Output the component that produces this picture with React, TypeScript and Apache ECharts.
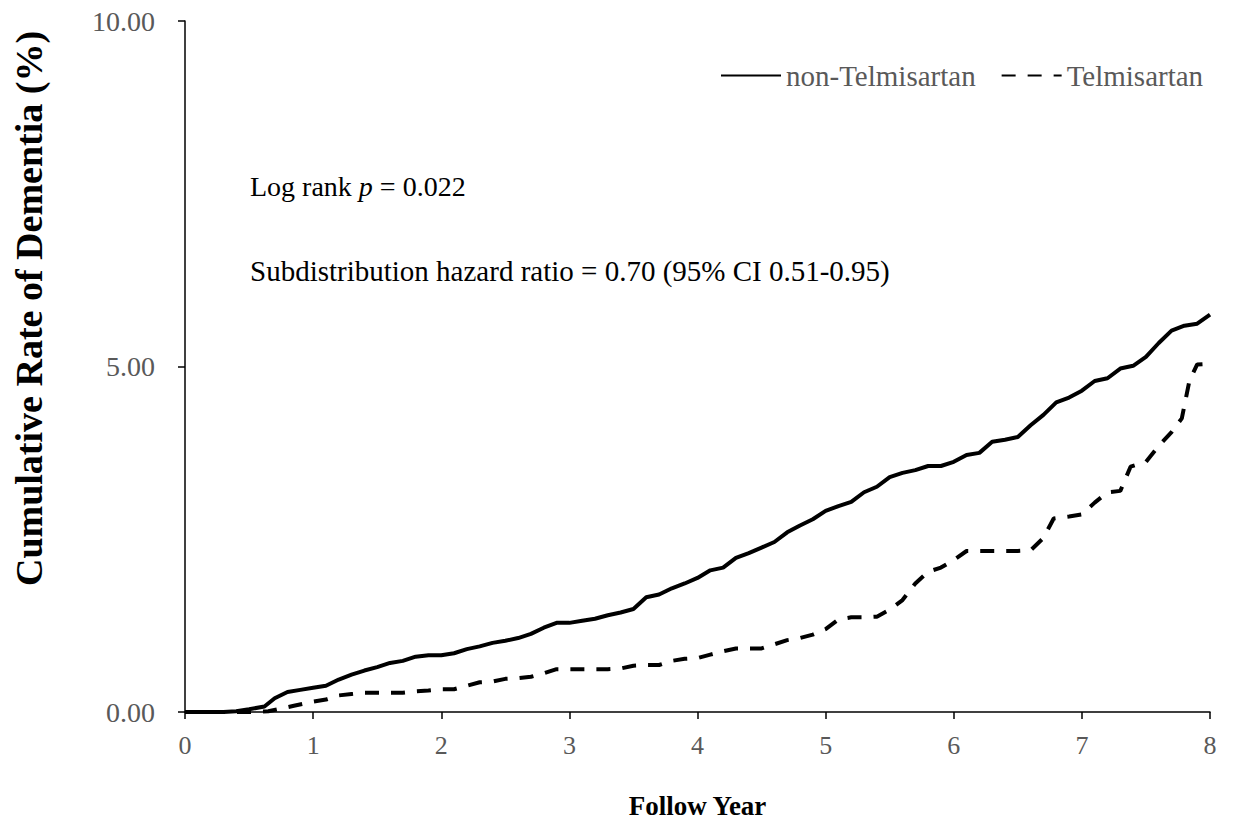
import React, { useEffect, useRef } from "react";
import * as echarts from "echarts";

// Follow-up years and cumulative dementia rate (%)
const nonTelmiYears = [0, 0.3, 0.4, 0.5, 0.62, 0.7, 0.8, 0.9, 1.0, 1.1, 1.2, 1.3, 1.4, 1.5, 1.6, 1.7, 1.8, 1.9, 2.0, 2.1, 2.2, 2.3, 2.4, 2.5, 2.6, 2.7, 2.8, 2.9, 3.0, 3.1, 3.2, 3.3, 3.4, 3.5, 3.6, 3.7, 3.8, 3.9, 4.0, 4.1, 4.2, 4.3, 4.4, 4.5, 4.6, 4.7, 4.8, 4.9, 5.0, 5.1, 5.2, 5.3, 5.4, 5.5, 5.6, 5.7, 5.8, 5.9, 6.0, 6.1, 6.2, 6.3, 6.4, 6.5, 6.6, 6.7, 6.8, 6.9, 7.0, 7.1, 7.2, 7.3, 7.4, 7.5, 7.6, 7.7, 7.8, 7.9, 8.0];
const nonTelmiRates = [0, 0, 0.01, 0.04, 0.08, 0.2, 0.29, 0.32, 0.35, 0.38, 0.47, 0.54, 0.6, 0.65, 0.71, 0.74, 0.8, 0.82, 0.82, 0.85, 0.91, 0.95, 1.0, 1.03, 1.07, 1.13, 1.22, 1.29, 1.29, 1.32, 1.35, 1.4, 1.44, 1.49, 1.66, 1.7, 1.79, 1.86, 1.94, 2.05, 2.09, 2.23, 2.3, 2.38, 2.46, 2.6, 2.7, 2.79, 2.91, 2.98, 3.04, 3.18, 3.26, 3.4, 3.46, 3.5, 3.56, 3.56, 3.62, 3.72, 3.75, 3.91, 3.94, 3.98, 4.15, 4.3, 4.48, 4.55, 4.65, 4.79, 4.83, 4.97, 5.01, 5.14, 5.34, 5.52, 5.59, 5.62, 5.75];

const telmiYears = [0, 0.55, 0.65, 0.75, 0.85, 1.0, 1.1, 1.2, 1.3, 1.4, 1.5, 1.6, 1.7, 1.8, 1.9, 2.0, 2.1, 2.2, 2.3, 2.4, 2.5, 2.6, 2.7, 2.8, 2.9, 3.0, 3.1, 3.2, 3.3, 3.4, 3.5, 3.6, 3.7, 3.8, 3.9, 4.0, 4.1, 4.2, 4.3, 4.4, 4.5, 4.6, 4.7, 4.8, 4.9, 5.0, 5.1, 5.2, 5.3, 5.4, 5.5, 5.6, 5.7, 5.8, 5.9, 6.0, 6.1, 6.2, 6.3, 6.4, 6.5, 6.6, 6.7, 6.78, 6.9, 7.0, 7.1, 7.2, 7.3, 7.38, 7.5, 7.6, 7.7, 7.78, 7.84, 7.9, 8.0];
const telmiRates = [0, 0, 0.01, 0.05, 0.09, 0.15, 0.18, 0.24, 0.26, 0.28, 0.28, 0.28, 0.28, 0.3, 0.31, 0.33, 0.33, 0.38, 0.43, 0.44, 0.48, 0.49, 0.51, 0.56, 0.62, 0.62, 0.62, 0.62, 0.62, 0.63, 0.67, 0.68, 0.68, 0.74, 0.77, 0.78, 0.83, 0.88, 0.92, 0.92, 0.92, 0.98, 1.04, 1.07, 1.12, 1.2, 1.34, 1.37, 1.37, 1.38, 1.48, 1.62, 1.86, 2.03, 2.09, 2.2, 2.33, 2.33, 2.33, 2.33, 2.33, 2.34, 2.52, 2.8, 2.83, 2.86, 3.03, 3.18, 3.2, 3.55, 3.62, 3.85, 4.05, 4.25, 4.8, 5.03, 5.04];

const seriesNames = ["non-Telmisartan", "Telmisartan"];
const yTicks = [0, 5, 10];
const xTicks = [0, 1, 2, 3, 4, 5, 6, 7, 8];

const zip = (xs: number[], ys: number[]) => xs.map((x, i) => [x, ys[i]]);

const SERIF = "'Liberation Serif', 'Times New Roman', serif";

export default function App() {
  const ref = useRef<HTMLDivElement>(null);

  useEffect(() => {
    if (!ref.current) return;
    const chart = echarts.init(ref.current, undefined, { renderer: "svg" });
    chart.setOption({
      animation: false,
      backgroundColor: "#ffffff",
      textStyle: { fontFamily: SERIF },
      grid: { left: 185, right: 23, top: 21, bottom: 112, containLabel: false },
      legend: {
        data: seriesNames,
        left: 715,
        top: 56,
        itemWidth: 60,
        itemHeight: 14,
        itemGap: 25,
        itemStyle: { opacity: 0 },
        textStyle: { fontFamily: "Times New Roman", fontSize: 29, color: "#595959" },
      },
      xAxis: {
        type: "value",
        min: xTicks[0],
        max: xTicks[xTicks.length - 1],
        interval: 1,
        name: "Follow Year",
        nameLocation: "middle",
        nameGap: 80,
        nameTextStyle: { fontFamily: SERIF, fontSize: 27, fontWeight: "bold", color: "#000" },
        axisLine: { show: true, lineStyle: { color: "#000", width: 1.5 } },
        axisTick: { show: true, inside: false, length: 7, lineStyle: { color: "#000", width: 1.5 } },
        axisLabel: { fontFamily: SERIF, fontSize: 26, color: "#595959", margin: 20 },
        splitLine: { show: false },
      },
      yAxis: {
        type: "value",
        min: yTicks[0],
        max: yTicks[yTicks.length - 1],
        interval: 5,
        name: "Cumulative Rate of Dementia (%)",
        nameLocation: "middle",
        nameGap: 137,
        nameTextStyle: {
          fontFamily: SERIF,
          fontSize: 38,
          fontWeight: "bold",
          color: "#000",
          padding: [0, 0, 0, 116],
        },
        axisLine: { show: true, lineStyle: { color: "#000", width: 1.5 } },
        axisTick: { show: true, inside: false, length: 7, lineStyle: { color: "#000", width: 1.5 } },
        axisLabel: {
          fontFamily: SERIF,
          fontSize: 28,
          color: "#595959",
          margin: 30,
          formatter: (v: number) => v.toFixed(2),
        },
        splitLine: { show: false },
      },
      graphic: [
        {
          type: "text",
          left: 250,
          top: 172,
          style: {
            text: "{a|Log rank }{b|p}{a| = 0.022}",
            font: "28px 'Liberation Serif'",
            fill: "#000",
            rich: {
              a: { font: "28px 'Liberation Serif'", fontFamily: "Liberation Serif", fontSize: 28, color: "#000" },
              b: { font: "italic 28px 'Liberation Serif'", fontFamily: "Liberation Serif", fontSize: 28, fontStyle: "italic", color: "#000" },
            },
          },
        },
        {
          type: "text",
          left: 250,
          top: 256,
          style: {
            text: "Subdistribution hazard ratio = 0.70 (95% CI 0.51-0.95)",
            font: "29px 'Liberation Serif'",
            fill: "#000",
          },
        },
      ],
      series: [
        {
          name: seriesNames[0],
          type: "line",
          data: zip(nonTelmiYears, nonTelmiRates),
          symbol: "none",
          lineStyle: { color: "#000", width: 4, type: "solid" },
          itemStyle: { color: "#000" },
        },
        {
          name: seriesNames[1],
          type: "line",
          data: zip(telmiYears, telmiRates),
          symbol: "none",
          lineStyle: { color: "#000", width: 4, type: [14, 12] },
          itemStyle: { color: "#000" },
        },
      ],
    });
    return () => chart.dispose();
  }, []);

  return (
    <div
      ref={ref}
      style={{ position: "absolute", left: 0, top: 0, width: 1233, height: 824, background: "#fff" }}
    />
  );
}
